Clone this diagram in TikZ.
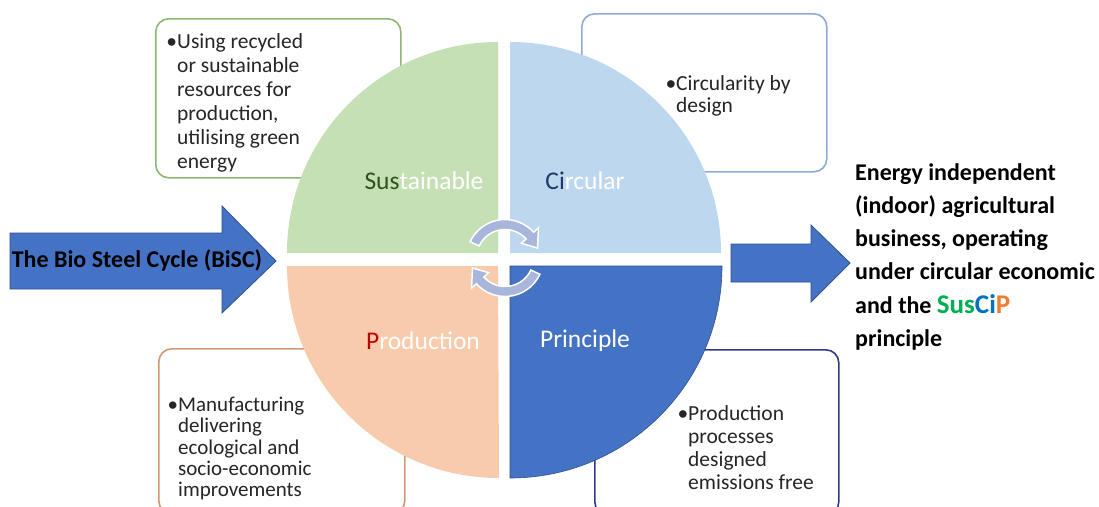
\documentclass[tikz,border=0pt]{standalone}
\usepackage{fontspec}
\setmainfont{Carlito}
\usetikzlibrary{calc}
\definecolor{qgreen}{HTML}{C5E0B4}
\definecolor{qlblue}{HTML}{BDD7EE}
\definecolor{qorange}{HTML}{F8CBAD}
\definecolor{qdblue}{HTML}{4472C4}
\definecolor{bgreen}{HTML}{8DB870}
\definecolor{blblue}{HTML}{8FA8D4}
\definecolor{borange}{HTML}{D09A72}
\definecolor{bdblue}{HTML}{2E3B8C}
\definecolor{arrowedge}{HTML}{2F528F}
\definecolor{lav}{HTML}{A8B6DC}
\definecolor{susdark}{HTML}{2F5220}
\definecolor{cidark}{HTML}{1F3864}
\definecolor{pred}{HTML}{C00000}
\definecolor{susg}{HTML}{00B050}
\definecolor{cib}{HTML}{0070C0}
\definecolor{po}{HTML}{ED7D31}
\begin{document}
\begin{tikzpicture}[x=1pt,y=-1pt,
  infobox/.style={draw, line width=1.6pt, rounded corners=13pt, fill=white, anchor=north west, inner sep=0},
  boxtext/.style={align=left, anchor=north west, inner sep=0, text=black!85},
  quadlabel/.style={font=\fontsize{25.5}{28}\selectfont, text=white, inner sep=0},
  bigarrow/.style={fill=qdblue, draw=arrowedge, line width=0.8pt},
  cyc/.style={fill=lav, draw=white, line width=1.5pt}]
\useasboundingbox (0,0) rectangle (1099,506);
\fill[white] (0,0) rectangle (1099,506);
% boxes
\node[infobox, draw=bgreen, minimum width=245pt, minimum height=159pt] (gbox) at (155,18) {};
\node[infobox, draw=blblue, minimum width=245pt, minimum height=158pt] (lbbox) at (581,13) {};
\node[infobox, draw=borange, minimum width=246pt, minimum height=165pt] (obox) at (158,348) {};
\node[infobox, draw=bdblue, minimum width=244pt, minimum height=165pt] (dbbox) at (594,349) {};
% quadrants
\fill[qgreen] (498,253) -- (287,253) arc[start angle=180, end angle=270, radius=211] -- cycle;
\fill[qlblue] (510,253) -- (510,42) arc[start angle=270, end angle=360, radius=211] -- cycle;
\fill[qorange] (498,266) -- (287,266) arc[start angle=180, end angle=90, radius=212] -- cycle;
\filldraw[fill=qdblue, draw=arrowedge, line width=0.6pt] (510,266) -- (722,266) arc[start angle=0, end angle=90, radius=212] -- cycle;
% quadrant labels
\node[quadlabel] (sus) at (424,181) {\textcolor{susdark}{Sus}tainable};
\node[quadlabel] (cir) at (585,181) {\textcolor{cidark}{Ci}rcular};
\node[quadlabel] (pro) at (423,341) {\textcolor{pred}{P}roduction};
\node[quadlabel] (pri) at (585,341) {Principle};
% cycle arrows
\coordinate (cc) at (505,258);
\path[cyc] ($(cc)+(-155:38.5)$) arc[start angle=-155, end angle=-42, radius=38.5]
  -- ($(cc)+(-42:45)$) -- ($(cc)+(-17:34)$) -- ($(cc)+(-42:22)$) -- ($(cc)+(-42:28.5)$)
  arc[start angle=-42, end angle=-155, radius=28.5] -- cycle;
\path[cyc] ($(cc)+(25:38.5)$) arc[start angle=25, end angle=138, radius=38.5]
  -- ($(cc)+(138:45)$) -- ($(cc)+(163:34)$) -- ($(cc)+(138:22)$) -- ($(cc)+(138:28.5)$)
  arc[start angle=138, end angle=25, radius=28.5] -- cycle;
% box texts
\node[boxtext, font=\fontsize{21.5}{24}\selectfont] (gtext) at (177,33) {\llap{•}Using recycled\\or sustainable\\resources for\\production,\\utilising green\\energy};
\node[boxtext, font=\fontsize{21.5}{22.5}\selectfont] (lbtext) at (676,75) {\llap{•}Circularity by\\design};
\node[boxtext, font=\fontsize{21}{21.3}\selectfont] (otext) at (178,397) {\llap{•}Manufacturing\\delivering\\ecological and\\socio-economic\\improvements};
\node[boxtext, font=\fontsize{21.5}{23}\selectfont] (dbtext) at (688,405) {\llap{•}Production\\processes\\designed\\emissions free};
% big arrows
\path[bigarrow] (10,233) -- (222,233) -- (222,206) -- (276,261) -- (222,313) -- (222,289) -- (10,289) -- cycle;
\node[font=\bfseries\fontsize{24}{28}\selectfont, inner sep=0] (bisc) at (137,260) {The Bio Steel Cycle (BiSC)};
\path[bigarrow] (731,244) -- (811,244) -- (811,225) -- (850,263) -- (811,302) -- (811,282) -- (731,282) -- cycle;
\node[font=\bfseries\fontsize{24}{33.3}\selectfont, align=left, anchor=north west, inner sep=0] (result) at (855,163)
  {Energy independent\\(indoor) agricultural\\business, operating\\under circular economic\\and the {\fontsize{27}{33.3}\selectfont\textcolor{susg}{Sus}\textcolor{cib}{Ci}\textcolor{po}{P}}\\principle};
\end{tikzpicture}
\end{document}
